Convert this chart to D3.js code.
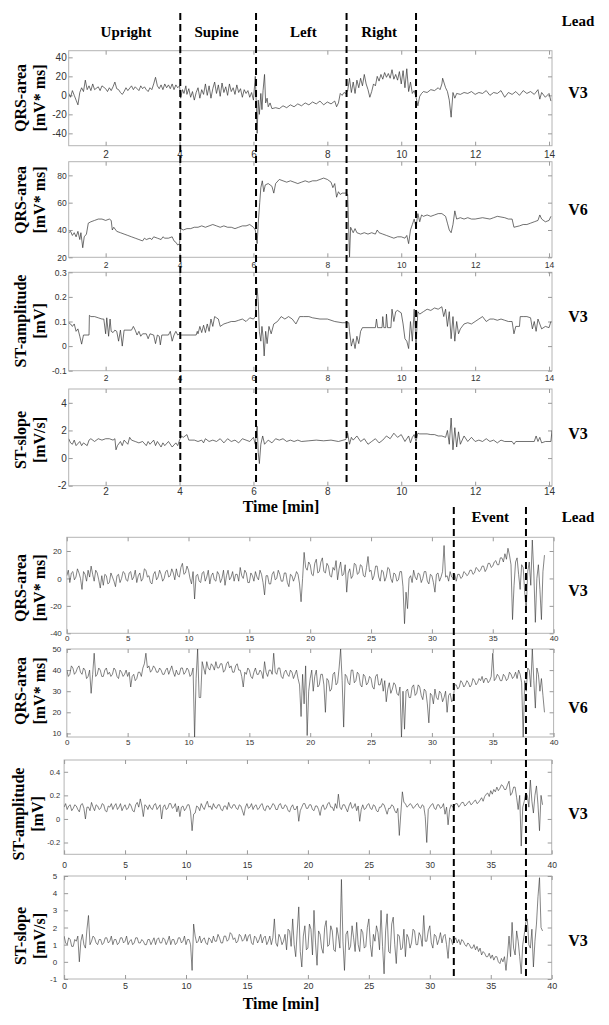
<!DOCTYPE html>
<html>
<head>
<meta charset="utf-8">
<script src="https://cdn.jsdelivr.net/npm/d3@7"></script>
<style>
  body { margin: 0; background: #fff; }
  svg { display: block; }
  .tick text { font-family: "Liberation Sans", Arial, sans-serif; fill: #333; }
  .tick line { stroke: #999; }
  .lbl { font-family: "Liberation Serif", "Times New Roman", serif; font-weight: bold; fill: #000; }
</style>
</head>
<body>
<svg id="chart" width="609" height="1025"></svg>
<script>
// ---- upper recording (minutes 1..14), [time, value] pairs ----
const topQrsV3 = [[1.0,2],[1.05,-2],[1.1,5],[1.15,0],[1.2,-5],[1.25,-10],[1.3,3],[1.35,8],[1.4,4],[1.45,16],[1.5,6],[1.55,10],[1.6,5],[1.65,12],[1.7,6],[1.8,9],[1.85,5],[1.9,10],[2.0,7],[2.05,4],[2.1,8],[2.15,5],[2.2,9],[2.25,14],[2.3,7],[2.35,6],[2.4,3],[2.45,1],[2.5,4],[2.55,8],[2.6,5],[2.7,10],[2.75,6],[2.8,9],[2.9,5],[2.95,10],[3.0,7],[3.05,9],[3.1,6],[3.15,4],[3.2,8],[3.25,6],[3.3,12],[3.35,19],[3.4,10],[3.45,7],[3.5,11],[3.55,6],[3.6,12],[3.65,8],[3.7,11],[3.75,7],[3.8,12],[3.85,6],[3.9,11],[3.95,8],[4.0,10],[4.03,-3],[4.08,6],[4.12,2],[4.17,10],[4.2,1],[4.25,7],[4.3,-2],[4.35,4],[4.4,-5],[4.45,3],[4.5,8],[4.55,-3],[4.6,6],[4.65,1],[4.7,12],[4.75,0],[4.8,10],[4.85,-3],[4.9,7],[4.95,14],[5.0,2],[5.05,11],[5.1,-1],[5.15,13],[5.2,3],[5.25,9],[5.3,0],[5.35,12],[5.4,4],[5.45,8],[5.5,1],[5.55,11],[5.6,3],[5.65,7],[5.7,-2],[5.75,6],[5.8,2],[5.85,5],[5.9,-2],[5.95,3],[6.0,-5],[6.05,20],[6.08,-12],[6.1,-40],[6.13,-5],[6.16,-20],[6.2,2],[6.23,-15],[6.26,5],[6.3,22],[6.33,-8],[6.37,-3],[6.4,-12],[6.45,-8],[6.5,-14],[6.6,-13],[6.7,-14],[6.8,-11],[6.9,-13],[7.0,-10],[7.1,-12],[7.2,-9],[7.3,-11],[7.4,-8],[7.5,-10],[7.6,-7],[7.7,-9],[7.8,-6],[7.9,-10],[8.0,-7],[8.1,-9],[8.2,-6],[8.25,-12],[8.3,-8],[8.35,2],[8.4,0],[8.45,3],[8.5,2],[8.55,5],[8.6,18],[8.65,3],[8.7,14],[8.75,2],[8.8,16],[8.85,8],[8.9,18],[8.95,10],[9.0,22],[9.05,12],[9.1,6],[9.15,-2],[9.2,4],[9.25,12],[9.3,10],[9.35,20],[9.4,15],[9.45,22],[9.5,17],[9.55,24],[9.6,19],[9.65,23],[9.7,18],[9.75,27],[9.8,17],[9.85,22],[9.9,16],[9.95,25],[10.0,12],[10.05,26],[10.1,8],[10.15,28],[10.2,4],[10.25,14],[10.3,2],[10.35,5],[10.4,-2],[10.45,-11],[10.5,-1],[10.55,2],[10.6,4],[10.7,3],[10.8,6],[10.9,5],[11.0,8],[11.05,6],[11.1,12],[11.12,18],[11.2,8],[11.25,4],[11.3,-5],[11.35,-23],[11.4,3],[11.45,-3],[11.5,2],[11.6,1],[11.7,3],[11.8,2],[11.9,4],[12.0,1],[12.1,3],[12.2,2],[12.3,5],[12.4,0],[12.5,3],[12.6,2],[12.7,5],[12.8,-2],[12.9,3],[13.0,1],[13.1,4],[13.2,0],[13.3,5],[13.4,2],[13.5,4],[13.6,1],[13.7,6],[13.75,-4],[13.8,3],[13.9,-2],[14.0,2],[14.05,-6]];

const topQrsV6 = [[1.0,38],[1.05,39],[1.1,36],[1.15,38],[1.2,35],[1.25,39],[1.3,33],[1.33,38],[1.38,27],[1.42,35],[1.48,37],[1.53,45],[1.6,46],[1.7,47],[1.8,48],[1.9,48],[2.0,47],[2.1,48],[2.15,47],[2.18,40],[2.22,42],[2.3,39],[2.4,38],[2.5,37],[2.6,36],[2.7,35],[2.8,34],[2.9,33],[3.0,32],[3.05,34],[3.1,33],[3.2,34],[3.25,33],[3.3,35],[3.4,34],[3.5,33],[3.55,35],[3.6,34],[3.7,34],[3.8,35],[3.85,32],[3.9,31],[3.95,29],[4.0,30],[4.03,41],[4.1,40],[4.2,41],[4.3,41],[4.4,42],[4.5,42],[4.6,43],[4.7,42],[4.8,43],[4.9,44],[5.0,43],[5.1,42],[5.2,43],[5.3,42],[5.4,42],[5.5,41],[5.6,42],[5.7,43],[5.8,43],[5.9,44],[6.0,42],[6.05,40],[6.1,30],[6.13,45],[6.17,60],[6.2,71],[6.24,76],[6.28,68],[6.32,73],[6.4,74],[6.5,72],[6.55,67],[6.6,74],[6.7,77],[6.8,76],[6.9,75],[7.0,76],[7.1,75],[7.2,74],[7.3,75],[7.4,76],[7.5,75],[7.6,76],[7.7,76],[7.8,77],[7.9,78],[8.0,77],[8.1,75],[8.15,71],[8.2,74],[8.25,64],[8.3,68],[8.35,66],[8.4,67],[8.5,67],[8.55,66],[8.6,20],[8.63,42],[8.7,38],[8.75,41],[8.8,38],[8.9,37],[9.0,38],[9.1,37],[9.2,38],[9.3,37],[9.35,40],[9.4,38],[9.5,37],[9.6,36],[9.7,35],[9.8,34],[9.9,35],[10.0,35],[10.1,34],[10.15,36],[10.2,30],[10.25,40],[10.3,44],[10.35,48],[10.4,42],[10.45,52],[10.5,46],[10.55,51],[10.6,50],[10.7,51],[10.8,50],[10.9,51],[11.0,52],[11.1,52],[11.2,50],[11.25,45],[11.3,40],[11.35,38],[11.4,44],[11.45,54],[11.5,48],[11.6,49],[11.7,48],[11.8,49],[11.9,48],[12.0,48],[12.2,49],[12.4,48],[12.5,49],[12.6,50],[12.8,49],[12.9,48],[13.0,48],[13.05,42],[13.2,43],[13.3,44],[13.4,44],[13.5,45],[13.6,46],[13.7,47],[13.75,51],[13.8,48],[13.9,46],[14.0,47],[14.05,50]];

const topStAmp = [[1.0,0.095],[1.05,0.09],[1.1,0.08],[1.15,0.09],[1.2,0.06],[1.25,0.07],[1.3,0.04],[1.35,0.008],[1.4,0.045],[1.55,0.045],[1.56,0.125],[1.6,0.12],[1.7,0.12],[1.8,0.115],[1.9,0.11],[1.95,0.11],[2.0,0.05],[2.03,0.115],[2.08,0.04],[2.12,0.11],[2.15,0.06],[2.2,0.055],[2.25,0.065],[2.3,0.06],[2.35,0.02],[2.4,0.065],[2.45,0.0],[2.5,0.065],[2.7,0.065],[2.75,0.08],[2.8,0.065],[2.85,0.045],[2.9,0.06],[2.95,0.04],[3.0,0.05],[3.1,0.05],[3.15,0.03],[3.2,0.05],[3.3,0.045],[3.35,0.01],[3.4,0.045],[3.45,0.04],[3.48,0.005],[3.52,0.045],[3.7,0.045],[3.75,0.06],[3.8,0.02],[3.85,0.045],[3.9,0.06],[3.95,0.045],[4.0,0.05],[4.05,0.045],[4.45,0.045],[4.48,0.06],[4.5,0.05],[4.55,0.08],[4.6,0.055],[4.65,0.085],[4.7,0.055],[4.75,0.09],[4.8,0.06],[4.85,0.11],[4.9,0.08],[4.95,0.12],[5.0,0.115],[5.05,0.11],[5.1,0.08],[5.2,0.09],[5.3,0.095],[5.4,0.1],[5.5,0.1],[5.6,0.105],[5.7,0.11],[5.8,0.1],[5.9,0.115],[6.0,0.11],[6.05,0.12],[6.1,0.236],[6.13,0.18],[6.16,0.06],[6.2,0.02],[6.23,0.08],[6.26,0.04],[6.29,-0.04],[6.33,0.06],[6.37,0.01],[6.42,0.08],[6.48,0.05],[6.55,0.09],[6.65,0.1],[6.75,0.12],[6.85,0.11],[6.95,0.12],[7.05,0.11],[7.15,0.09],[7.25,0.12],[7.35,0.12],[7.5,0.12],[7.6,0.115],[7.8,0.11],[8.0,0.11],[8.2,0.1],[8.4,0.095],[8.58,0.095],[8.6,0.06],[8.65,0.0],[8.7,0.03],[8.75,-0.01],[8.8,0.04],[8.85,0.01],[8.9,0.06],[8.95,0.075],[9.3,0.075],[9.33,0.11],[9.36,0.075],[9.48,0.075],[9.5,0.12],[9.53,0.075],[9.58,0.075],[9.6,0.13],[9.63,0.075],[9.72,0.075],[9.75,0.15],[9.8,0.1],[9.85,0.14],[9.9,0.145],[10.0,0.135],[10.05,0.09],[10.1,0.03],[10.15,0.02],[10.2,-0.01],[10.25,0.1],[10.3,0.02],[10.35,0.15],[10.4,0.01],[10.45,0.14],[10.5,0.13],[10.6,0.14],[10.7,0.15],[10.8,0.145],[10.9,0.155],[11.0,0.15],[11.1,0.16],[11.15,0.12],[11.2,0.15],[11.25,0.08],[11.3,0.14],[11.35,0.03],[11.4,0.12],[11.45,0.02],[11.5,0.1],[11.55,0.05],[11.6,0.07],[11.7,0.09],[11.8,0.095],[11.9,0.09],[12.0,0.1],[12.1,0.11],[12.2,0.12],[12.3,0.1],[12.4,0.11],[12.5,0.11],[12.6,0.105],[12.7,0.11],[12.8,0.105],[12.9,0.1],[13.0,0.1],[13.05,0.05],[13.1,0.08],[13.2,0.08],[13.22,0.12],[13.3,0.12],[13.4,0.12],[13.5,0.115],[13.55,0.07],[13.6,0.1],[13.65,0.06],[13.7,0.11],[13.8,0.07],[13.9,0.08],[14.0,0.075],[14.05,0.1]];

const topStSlope = [[1.0,1.4],[1.05,1.1],[1.1,1.0],[1.15,1.3],[1.2,0.9],[1.3,1.2],[1.35,0.9],[1.4,1.1],[1.5,0.9],[1.55,1.3],[1.6,1.4],[1.7,1.2],[1.8,1.4],[1.9,1.3],[2.0,1.4],[2.1,1.4],[2.2,1.3],[2.25,1.4],[2.28,0.6],[2.32,0.9],[2.4,1.2],[2.45,0.9],[2.5,1.3],[2.6,1.0],[2.65,1.5],[2.7,1.3],[2.8,1.2],[2.9,1.1],[3.0,1.2],[3.1,0.9],[3.15,1.2],[3.2,1.0],[3.3,1.3],[3.35,0.9],[3.4,1.2],[3.5,0.8],[3.55,1.1],[3.6,0.9],[3.7,1.2],[3.8,0.8],[3.9,1.1],[3.95,0.9],[4.0,1.3],[4.05,1.6],[4.1,1.5],[4.2,1.7],[4.25,1.3],[4.4,1.3],[4.5,1.2],[4.6,1.3],[4.65,1.1],[4.7,1.4],[4.8,1.2],[4.9,1.3],[5.0,1.2],[5.1,1.4],[5.2,1.1],[5.3,1.4],[5.4,1.2],[5.5,1.3],[5.6,1.1],[5.7,1.4],[5.8,1.3],[5.9,1.2],[6.0,1.5],[6.05,1.0],[6.1,2.3],[6.13,0.4],[6.16,-0.4],[6.2,1.0],[6.25,1.6],[6.3,1.0],[6.4,1.3],[6.5,1.1],[6.6,1.4],[6.7,1.3],[6.8,1.4],[6.9,1.2],[7.0,1.3],[7.1,1.2],[7.2,1.3],[7.3,1.2],[7.5,1.25],[7.7,1.3],[7.9,1.25],[8.1,1.3],[8.3,1.2],[8.5,1.35],[8.55,1.8],[8.6,1.0],[8.65,1.5],[8.7,1.3],[8.8,1.6],[8.9,1.2],[9.0,1.4],[9.1,1.0],[9.2,1.2],[9.3,1.4],[9.4,1.1],[9.5,1.3],[9.6,1.6],[9.7,1.4],[9.8,1.8],[9.9,1.5],[10.0,1.7],[10.1,1.2],[10.2,1.6],[10.25,1.1],[10.3,1.5],[10.35,1.7],[10.4,1.2],[10.45,1.8],[10.5,1.75],[10.7,1.75],[10.8,1.7],[10.9,1.7],[11.0,1.6],[11.1,1.6],[11.2,1.5],[11.25,2.0],[11.3,1.0],[11.35,2.9],[11.4,0.6],[11.45,2.2],[11.5,0.8],[11.55,1.9],[11.6,1.0],[11.7,1.6],[11.8,1.2],[11.9,1.5],[12.0,1.2],[12.1,1.3],[12.2,1.2],[12.3,1.4],[12.4,1.2],[12.5,1.3],[12.6,1.1],[12.7,1.3],[12.8,1.2],[13.0,1.2],[13.05,1.0],[13.1,1.2],[13.6,1.2],[13.65,1.6],[13.7,1.2],[13.75,1.5],[13.8,1.1],[13.9,1.2],[14.05,1.2],[14.08,2.0]];

// ---- lower recording (minutes 0..39.25), one value every 0.125 min, 8 per row = 1 minute ----
const lowStep = 0.125;
const lowQrsV3 = [
  2,6,-3,4,5,-1,1,7, 4,0,-8,5,3,-2,6,1, 9,3,-2,6,4,-1,-7,2, -5,3,2,-4,-3,4,1,-2, -6,2,3,-3,0,5,4,-1,
  -2,4,5,-1,1,6,-3,2, 4,-2,0,7,6,1,2,-3, -4,3,5,-1,1,6,3,-2, 0,5,6,1,2,7,4,-1, 7,2,1,8,11,3,4,9,
  6,0,-4,5,-15,2,3,-2, -3,4,5,-2,1,6,-4,2, 4,-1,-2,5,3,-3,0,6, -5,2,6,-1,1,5,-2,3, 3,-2,8,2,0,6,4,-3,
  -3,4,2,-2,5,1,-1,6, 3,-3,-12,2,2,-4,-4,3, 5,-1,0,6,3,-2,-2,4, 4,-3,-6,3,2,-2,1,5, 3,-4,-17,0,19,8,6,12,
  10,3,2,11,14,4,5,12, 15,5,4,11,9,2,1,8, 6,13,-1,7,12,2,3,10, -10,4,7,0,2,11,10,3, 4,10,9,2,1,8,16,5,
  6,-1,2,9,9,1,-2,6, 5,-2,1,8,7,0,-3,4, 3,-2,-1,5,5,-6,-33,-10, -22,0,2,-3,6,1,-1,4, 3,-3,0,5,5,-2,-4,3,
  2,-3,-10,3,4,-2,1,5, 24,1,2,-2,5,1,0,3, -2,3,3,0,1,5,4,2, 3,6,6,3,4,8,7,5, 6,9,9,5,7,11,11,8,
  9,12,13,10,10,15,15,12, 18,14,22,17,10,-30,-5,12, 15,3,-8,10,8,-10,-23,5, 12,-5,28,4,-32,0,10,-8, -30,5,17];
const lowQrsV6 = [
  40,37,38,42,41,38,39,41, 42,39,38,41,40,36,37,40, 29,38,48,37,38,41,40,37, 37,40,41,38,39,37,38,41, 40,37,36,40,39,37,38,40,
  37,39,32,37,38,35,36,39, 39,37,41,43,48,41,42,39, 40,42,41,39,39,41,40,38, 38,40,41,38,40,42,39,37, 40,38,38,41,41,38,39,41,
  40,37,38,41,8,36,50,27, 27,44,41,38,44,41,40,43, 42,40,44,41,41,43,43,39, 40,43,44,41,42,39,39,42, 43,40,40,37,32,39,38,41,
  40,37,36,39,41,38,38,40, 39,36,44,39,37,40,40,38, 48,39,38,41,41,37,36,39, 40,38,37,40,39,36,38,40, 36,33,18,38,24,42,9,30,
  36,40,30,37,40,32,33,38, 38,33,20,36,35,30,31,38, 39,33,34,41,50,35,13,38, 37,34,33,40,40,34,35,39, 38,33,32,38,37,33,34,37,
  36,32,31,37,38,33,33,36, 30,35,25,31,34,29,31,34, 33,29,28,32,8,30,12,30, 31,27,27,32,33,28,29,33, 32,28,26,31,30,24,15,29,
  28,24,31,27,26,30,29,25, 27,30,20,28,29,25,26,33, 33,31,32,35,34,32,33,35, 34,32,33,36,35,33,34,36, 35,37,34,36,36,34,35,37,
  48,35,36,38,37,35,35,38, 37,35,36,39,38,36,37,39, 36,40,38,34,8,35,30,41, 40,32,50,35,22,41,38,30, 36,28,20];
const lowStAmp = [
  0.1,0.13,0.08,0.11,0.12,0.07,0.09,0.12, 0.11,0.08,0.06,0.12,0.13,0.09,0.0,0.1, 0.1,0.07,0.14,0.1,0.07,0.12,0.11,0.08, 0.09,0.13,0.12,0.07,0.06,0.11,0.1,0.13, 0.08,0.11,0.13,0.08,0.1,0.13,0.07,0.1,
  0.12,0.08,0.09,0.13,0.11,0.07,0.06,0.12, 0.14,0.1,0.17,0.11,0.02,0.12,0.11,0.08, 0.12,0.09,0.08,0.12,0.13,0.08,0.1,0.12, 0.0,0.1,0.12,0.08,0.09,0.13,0.13,0.09, 0.1,0.13,0.06,0.11,0.02,0.1,0.11,0.07,
  0.09,0.12,0.12,0.06,-0.1,0.04,0.05,0.11, 0.1,0.07,0.13,0.1,0.08,0.12,0.15,0.1, 0.11,0.08,0.13,0.1,0.09,0.12,0.12,0.08, 0.07,0.11,0.11,0.08,0.14,0.1,0.09,0.12, 0.12,0.09,0.08,0.12,0.11,0.07,0.03,0.1,
  0.13,0.09,0.1,0.13,0.08,0.11,0.12,0.08, 0.09,0.12,0.13,0.08,0.07,0.11,0.11,0.08, 0.1,0.13,0.12,0.08,0.08,0.12,0.13,0.09, 0.09,0.12,0.11,0.07,0.06,0.1,0.12,0.08, 0.08,0.11,-0.02,0.07,0.1,0.13,0.13,0.09,
  0.09,0.12,0.12,0.08,0.07,0.11,0.11,0.08, 0.03,0.1,0.12,0.08,0.09,0.13,0.14,0.1, 0.1,0.07,0.13,0.09,0.21,0.1,0.08,0.12, 0.12,0.09,0.06,0.11,0.14,0.09,0.1,0.13, 0.07,0.11,-0.02,0.08,0.12,0.08,0.09,0.12,
  0.13,0.09,0.08,0.12,0.11,0.07,0.06,0.1, 0.1,0.13,0.12,0.08,0.04,0.09,0.09,0.12, 0.11,0.07,0.05,0.09,-0.14,0.05,0.23,0.14, 0.13,0.1,0.11,0.13,0.12,0.09,0.1,0.12, 0.13,0.1,0.09,0.12,0.11,0.02,-0.2,0.08,
  0.1,0.12,0.13,0.09,0.08,0.12,0.12,0.09, 0.1,0.13,0.04,0.1,-0.05,0.08,0.12,0.1, 0.11,0.13,0.13,0.1,0.12,0.14,0.14,0.11, 0.12,0.14,0.15,0.12,0.13,0.15,0.16,0.13, 0.14,0.16,0.18,0.15,0.19,0.21,0.22,0.19,
  0.24,0.21,0.25,0.23,0.27,0.24,0.26,0.29, 0.28,0.25,0.25,0.29,0.32,0.2,0.22,0.27, 0.27,0.18,0.08,0.2,-0.23,0.1,0.15,0.22, 0.2,0.1,0.33,0.15,0.05,0.2,0.28,0.12, -0.1,0.2,0.12];
const lowStSlope = [
  1.5,1.1,1.0,1.4,1.3,0.9,0.9,1.3, 1.2,1.5,0.0,1.2,1.6,1.0,0.8,1.9, 2.7,1.0,1.2,1.5,1.4,1.1,1.0,1.3, 1.3,1.0,1.1,1.4,1.4,1.1,1.2,1.5, 1.0,1.3,1.3,1.0,1.1,1.4,1.4,1.1,
  1.2,1.5,1.0,1.2,1.3,1.0,1.1,1.4, 1.4,1.1,1.1,1.3,1.2,1.0,1.0,1.3, 1.3,1.0,1.2,1.4,1.0,1.3,1.4,1.1, 1.1,1.4,1.3,1.0,1.2,1.5,1.0,1.3, 1.3,1.0,1.1,1.4,1.4,1.1,1.2,1.5,
  1.0,1.3,1.3,1.0,-0.5,2.2,1.5,1.1, 1.2,1.5,1.1,1.3,1.4,1.1,1.0,1.4, 1.3,1.1,1.5,1.2,1.2,1.6,1.4,1.1, 1.1,1.5,1.5,1.2,1.3,1.7,1.6,1.3, 1.4,1.1,1.2,1.6,1.5,1.2,1.3,1.6,
  1.2,1.5,1.6,1.1,1.0,1.5,1.4,1.1, 1.3,1.6,1.1,1.4,1.5,1.0,1.2,1.5, 1.0,1.4,2.5,1.1,0.9,1.6,1.4,1.0, 1.2,1.6,0.7,1.9,1.8,0.9,2.5,1.0, 0.3,1.8,3.2,0.6,-0.3,1.5,2.1,0.7,
  0.8,2.2,1.9,0.4,3.0,1.1,-0.2,1.8, 1.6,0.8,0.5,2.0,2.4,0.9,1.0,2.1, 1.8,0.7,0.6,2.0,1.5,0.8,4.8,1.2, -0.5,1.6,1.8,0.7,0.9,2.1,1.4,0.6, 2.3,1.0,0.6,1.9,1.7,0.8,0.9,2.0,
  2.5,1.0,0.3,1.6,1.2,2.1,1.7,0.7, 3.0,0.9,-0.7,1.8,2.8,0.6,0.5,2.2, 2.6,1.0,-0.1,1.6,1.5,0.7,0.8,1.9, 0.3,1.6,1.4,0.8,1.1,1.9,1.8,1.0, 1.0,1.7,1.5,0.9,2.7,1.2,1.2,1.8,
  2.1,1.1,0.8,1.6,1.5,1.0,1.3,1.7, 1.1,1.5,1.6,1.0,0.2,1.4,1.3,1.0, 1.2,1.4,1.1,1.3,1.0,1.3,1.2,1.0, 0.9,1.1,1.0,0.8,0.8,1.0,0.7,0.9, 0.6,0.8,0.4,0.6,0.5,0.3,0.3,0.5,
  0.2,0.4,0.1,0.3,0.3,0.0,-0.1,0.2, 0.0,0.3,-0.5,0.4,1.5,0.3,2.3,0.8, 0.4,1.8,1.2,0.3,-0.7,1.0,1.6,2.3, 2.5,1.0,0.8,1.9,-0.3,1.2,2.2,3.8, 4.9,2.0,1.8];

const topXTicks = [2, 4, 6, 8, 10, 12, 14];
const lowXTicks = [0, 5, 10, 15, 20, 25, 30, 35, 40];
const topPhases = ["Upright", "Supine", "Left", "Right"];
const topPhaseMid = [2.55, 5.0, 7.35, 9.4];
const topBounds = [4.02, 6.07, 8.52, 10.40];
const lowBounds = [31.8, 37.73];

const toPairs = vals => vals.map((v, i) => [i * lowStep, v]);

const svg = d3.select("#chart");

const panels = [
  { data: topQrsV3, x: [68.7, 552], y: [50.7, 145.7], xd: [1, 14.08], yd: [-53, 47], yt: [-40, -20, 0, 20, 40], xt: topXTicks, fs: 10, xs: 10, xpad: 5.5, ypad: 2, lab: ["QRS-area", "[mV* ms]"], labY: 98, lead: "V3", leadY: 92 },
  { data: topQrsV6, x: [68.7, 552], y: [161.7, 257.3], xd: [1, 14.08], yd: [20, 90], yt: [20, 40, 60, 80], xt: topXTicks, fs: 8.5, xs: 8.5, xpad: 4.5, ypad: 2, lab: ["QRS-area", "[mV* ms]"], labY: 200, lead: "V6", leadY: 209 },
  { data: topStAmp, x: [68.7, 552], y: [272.3, 370.7], xd: [1, 14.08], yd: [-0.1, 0.3], yt: [-0.1, 0, 0.1, 0.2, 0.3], xt: topXTicks, fs: 8.5, xs: 8.5, xpad: 4, ypad: 2, lab: ["ST-amplitude", "[mV]"], labY: 321, lead: "V3", leadY: 316 },
  { data: topStSlope, x: [68.7, 552], y: [389, 485.7], xd: [1, 14.08], yd: [-2, 5], yt: [-2, 0, 2, 4], xt: topXTicks, fs: 10, xs: 10, xpad: 2.5, ypad: 2, lab: ["ST-slope", "[mV/s]"], labY: 440, lead: "V3", leadY: 433 },
  { data: toPairs(lowQrsV3), x: [66.8, 553.6], y: [537.3, 633.3], xd: [0, 40], yd: [-40, 30], yt: [-40, -20, 0, 20], xt: lowXTicks, fs: 8, xs: 8, xpad: 2.5, ypad: 5, lab: ["QRS-area", "[mV* ms]"], labY: 588, lead: "V3", leadY: 590 },
  { data: toPairs(lowQrsV6), x: [66.8, 553.6], y: [649, 737], xd: [0, 40], yd: [8.3, 50], yt: [10, 20, 30, 40, 50], xt: lowXTicks, fs: 8, xs: 8, xpad: 2, ypad: 5.5, lab: ["QRS-area", "[mV* ms]"], labY: 691, lead: "V6", leadY: 707 },
  { data: toPairs(lowStAmp), x: [64.1, 551.7], y: [760, 854.3], xd: [0, 40], yd: [-0.3, 0.5], yt: [-0.2, 0, 0.2, 0.4], xt: lowXTicks, fs: 7.5, xs: 8.5, xpad: 7.5, ypad: 4, lab: ["ST-amplitude", "[mV]"], labY: 814, lead: "V3", leadY: 813 },
  { data: toPairs(lowStSlope), x: [64.1, 551.7], y: [876, 979], xd: [0, 40], yd: [-1, 5], yt: [-1, 0, 1, 2, 3, 4, 5], xt: lowXTicks, fs: 8, xs: 9, xpad: 3.5, ypad: 7, lab: ["ST-slope", "[mV/s]"], labY: 936, lead: "V3", leadY: 940 }
];

const fmt = d => String(+d.toFixed(2));

panels.forEach((p, i) => {
  const x = d3.scaleLinear().domain(p.xd).range(p.x);
  const y = d3.scaleLinear().domain(p.yd).range([p.y[1], p.y[0]]);
  p.xScale = x;
  const g = svg.append("g");

  g.append("rect")
    .attr("x", p.x[0]).attr("y", p.y[0])
    .attr("width", p.x[1] - p.x[0]).attr("height", p.y[1] - p.y[0])
    .attr("fill", "#fff").attr("stroke", "#b4b4b4").attr("stroke-width", 1);

  // MATLAB style: ticks pointing inwards on all four sides
  const bottom = g.append("g").attr("transform", `translate(0,${p.y[1]})`)
    .call(d3.axisBottom(x).tickValues(p.xt).tickSize(-4).tickPadding(p.xpad).tickFormat(fmt));
  bottom.selectAll("text").style("font-size", p.xs + "px");
  g.append("g").attr("transform", `translate(0,${p.y[0]})`)
    .call(d3.axisTop(x).tickValues(p.xt).tickSize(-4).tickFormat(""));
  const left = g.append("g").attr("transform", `translate(${p.x[0]},0)`)
    .call(d3.axisLeft(y).tickValues(p.yt).tickSize(-4).tickPadding(p.ypad).tickFormat(fmt));
  left.selectAll("text").style("font-size", p.fs + "px");
  g.append("g").attr("transform", `translate(${p.x[1]},0)`)
    .call(d3.axisRight(y).tickValues(p.yt).tickSize(-4).tickFormat(""));
  g.selectAll(".domain").remove();

  g.append("clipPath").attr("id", "clip" + i)
    .append("rect")
    .attr("x", p.x[0]).attr("y", p.y[0])
    .attr("width", p.x[1] - p.x[0]).attr("height", p.y[1] - p.y[0]);

  g.append("path")
    .datum(p.data)
    .attr("clip-path", `url(#clip${i})`)
    .attr("fill", "none")
    .attr("stroke", "#333")
    .attr("stroke-width", i < 4 ? 0.7 : 0.6)
    .attr("d", d3.line().x(d => x(d[0])).y(d => y(d[1])));

  // rotated two-line y label
  const lx = i === 6 ? [18, 37] : [20, 39];
  p.lab.forEach((t, k) => {
    svg.append("text").attr("class", "lbl")
      .attr("transform", `translate(${lx[k]},${p.labY}) rotate(-90)`)
      .attr("text-anchor", "middle").attr("dominant-baseline", "central")
      .style("font-size", "16px").text(t);
  });

  svg.append("text").attr("class", "lbl")
    .attr("x", 578).attr("y", p.leadY)
    .attr("text-anchor", "middle").attr("dominant-baseline", "central")
    .style("font-size", "16px").text(p.lead);
});

// position boundaries (dashed)
const topX = panels[0].xScale;
const lowX = panels[4].xScale;
svg.selectAll(".topb").data(topBounds).enter().append("line")
  .attr("x1", d => topX(d)).attr("x2", d => topX(d))
  .attr("y1", 13).attr("y2", 485)
  .attr("stroke", "#000").attr("stroke-width", 2).attr("stroke-dasharray", "7,4");
svg.selectAll(".lowb").data(lowBounds).enter().append("line")
  .attr("x1", d => lowX(d)).attr("x2", d => lowX(d))
  .attr("y1", 507).attr("y2", 979)
  .attr("stroke", "#000").attr("stroke-width", 2).attr("stroke-dasharray", "7,4");

// headers
svg.selectAll(".phase").data(topPhases).enter().append("text")
  .attr("class", "lbl")
  .attr("x", (d, i) => topX(topPhaseMid[i])).attr("y", 32)
  .attr("text-anchor", "middle").attr("dominant-baseline", "central")
  .style("font-size", "15px").text(d => d);

const header = (t, x, yy) => svg.append("text").attr("class", "lbl")
  .attr("x", x).attr("y", yy)
  .attr("text-anchor", "middle").attr("dominant-baseline", "central")
  .style("font-size", "15px").text(t);
header("Lead", 578, 21);
header("Event", lowX(34.8), 517);
header("Lead", 578, 517);

svg.append("text").attr("class", "lbl")
  .attr("x", 281).attr("y", 506)
  .attr("text-anchor", "middle").attr("dominant-baseline", "central")
  .style("font-size", "16px").text("Time [min]");
svg.append("text").attr("class", "lbl")
  .attr("x", 281).attr("y", 1003)
  .attr("text-anchor", "middle").attr("dominant-baseline", "central")
  .style("font-size", "16px").text("Time [min]");
</script>
</body>
</html>
